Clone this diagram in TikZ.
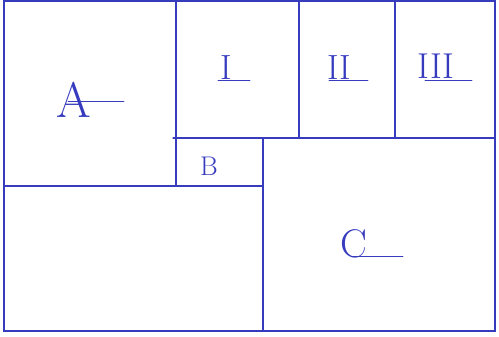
\documentclass[tikz,border=0pt]{standalone}
\begin{document}
\begin{tikzpicture}[x=1pt,y=-1pt,
  ink/.style={draw=penblue,line width=1.2pt,line cap=round},
  thin ink/.style={draw=penblue,line width=0.9pt,line cap=round},
  lbl/.style={text=penblue,inner sep=0pt}]
\definecolor{penblue}{RGB}{55,60,190}
\useasboundingbox (0,0) rectangle (499,337);
\fill[white] (0,0) rectangle (499,337);
% outer frame
\draw[ink] (4,1) -- (495,1) -- (495,331) -- (4,331) -- cycle;
% inner division lines
\draw[ink] (176,1) -- (176,186);
\draw[ink] (4,186) -- (263,186);
\draw[ink] (173,138) -- (495,138);
\draw[ink] (263,138) -- (263,331);
\draw[ink] (299,1) -- (299,138);
\draw[ink] (395,2) -- (395,138);
% labels
\node[lbl,font=\fontsize{50}{50}\selectfont] (A) at (74,100) {A};
\draw[thin ink] (68,101) -- (124,101);
\node[lbl,font=\fontsize{35}{35}\selectfont] (I) at (226,68) {I};
\draw[thin ink] (218,80) -- (250,80);
\node[lbl,font=\fontsize{35}{35}\selectfont] (II) at (339,68) {II};
\draw[thin ink] (329,80) -- (368,80);
\node[lbl,font=\fontsize{36}{36}\selectfont] (III) at (436,66) {III};
\draw[thin ink] (425,80) -- (472,80);
\node[lbl,font=\fontsize{27}{27}\selectfont] (B) at (209,166) {B};
\node[lbl,font=\fontsize{40}{40}\selectfont] (C) at (354,244) {C};
\draw[thin ink] (352,256) -- (403,256);
\end{tikzpicture}
\end{document}
